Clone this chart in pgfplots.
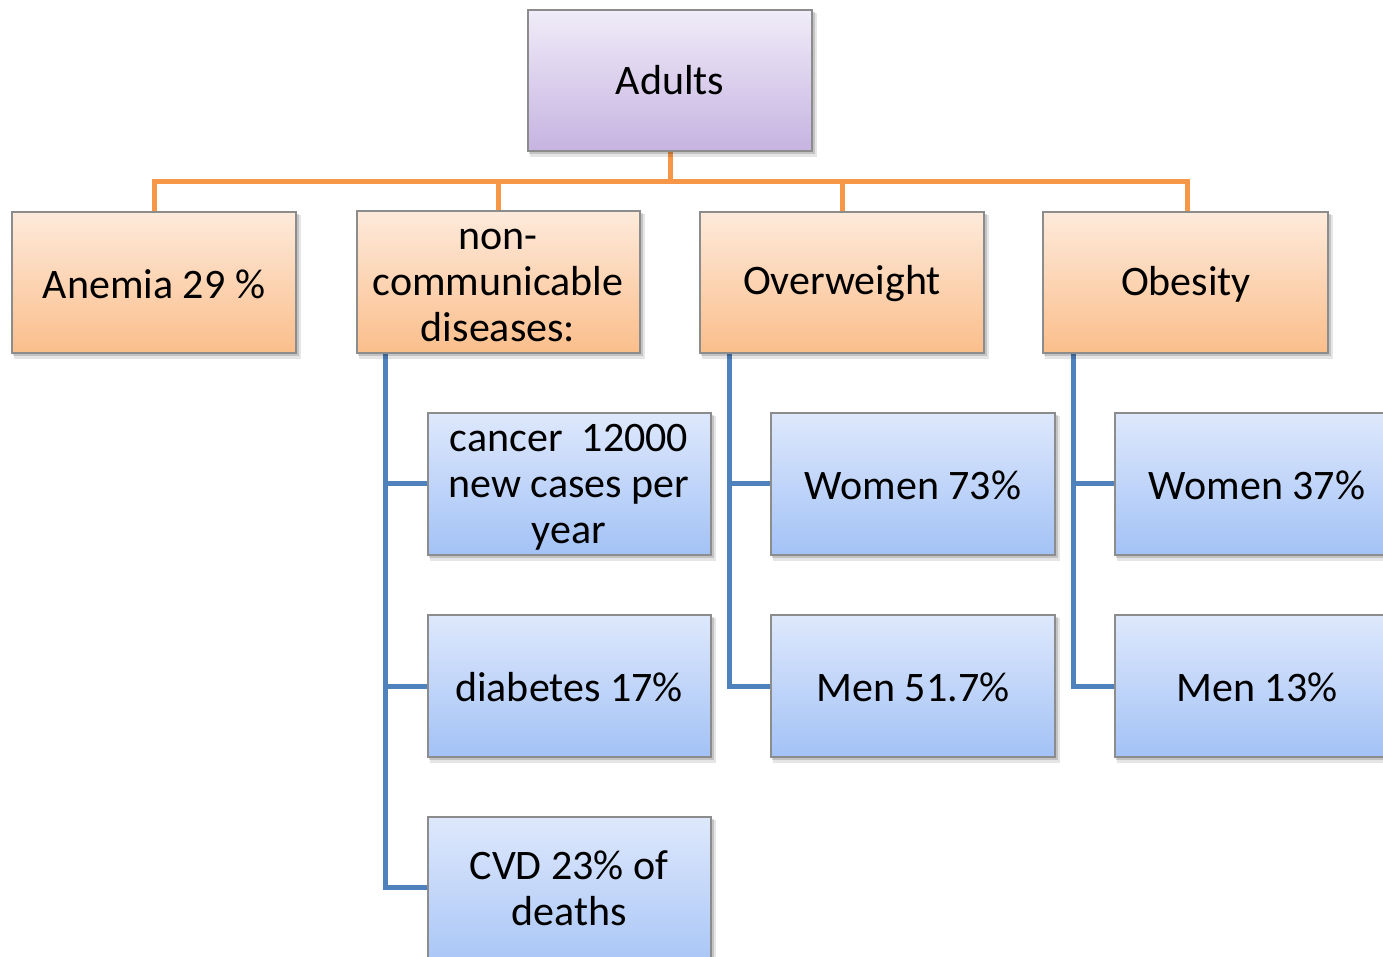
\documentclass[border=0pt]{standalone}
\usepackage{pgfplots}
\pgfplotsset{compat=1.18}
\usepackage{fontspec}
\setmainfont{Carlito}
\definecolor{lineor}{HTML}{F79646}
\definecolor{lineblue}{HTML}{4F81BD}
\definecolor{ortop}{HTML}{FDEADB}
\definecolor{orbot}{HTML}{FBBE8B}
\definecolor{putop}{HTML}{F0ECF8}
\definecolor{pubot}{HTML}{C6B3E1}
\definecolor{bltop}{HTML}{DEE8FC}
\definecolor{blbot}{HTML}{A3C2F6}
\definecolor{boxedge}{HTML}{8C8C8C}
\newcommand{\cbox}[6]{%
  \addplot[draw=none, fill=black, opacity=0.10] coordinates {(#1+2,#2+3) (#3+5,#2+3) (#3+5,#4+6) (#1+2,#4+6)} -- cycle;
  \addplot[draw=none, fill=black, opacity=0.15] coordinates {(#1+1,#2+2) (#3+3,#2+2) (#3+3,#4+3) (#1+1,#4+3)} -- cycle;
  \addplot[draw=boxedge, line width=0.7pt, top color=#5, bottom color=#6] coordinates {(#1,#2) (#3,#2) (#3,#4) (#1,#4)} -- cycle;
}
\begin{document}
\begin{tikzpicture}
\begin{axis}[
  width=691.5pt, height=478.5pt, scale only axis,
  xmin=0, xmax=1383, ymin=0, ymax=957, y dir=reverse,
  hide axis, clip=true,
]
% orange connectors
\addplot[lineor, line width=2.5pt] coordinates {(670,151) (670,182)};
\addplot[lineor, line width=2.5pt] coordinates {(154,212) (154,182) (1187,182) (1187,212)};
\addplot[lineor, line width=2.5pt] coordinates {(498,182) (498,212)};
\addplot[lineor, line width=2.5pt] coordinates {(842,182) (842,212)};
% blue connectors
\addplot[lineblue, line width=2.5pt] coordinates {(385,353) (385,887) (428,887)};
\addplot[lineblue, line width=2.5pt] coordinates {(385,484) (428,484)};
\addplot[lineblue, line width=2.5pt] coordinates {(385,686) (428,686)};
\addplot[lineblue, line width=2.5pt] coordinates {(729,353) (729,686) (771,686)};
\addplot[lineblue, line width=2.5pt] coordinates {(729,484) (771,484)};
\addplot[lineblue, line width=2.5pt] coordinates {(1073,353) (1073,686) (1115,686)};
\addplot[lineblue, line width=2.5pt] coordinates {(1073,484) (1115,484)};
% boxes
\cbox{528}{10}{812}{151}{putop}{pubot}
\cbox{12}{212}{296}{353}{ortop}{orbot}
\cbox{357}{211}{640}{353}{ortop}{orbot}
\cbox{700}{212}{984}{353}{ortop}{orbot}
\cbox{1043}{212}{1328}{353}{ortop}{orbot}
\cbox{428}{413}{711}{555}{bltop}{blbot}
\cbox{428}{615}{711}{757}{bltop}{blbot}
\cbox{428}{817}{711}{980}{bltop}{blbot}
\cbox{771}{413}{1055}{555}{bltop}{blbot}
\cbox{771}{615}{1055}{757}{bltop}{blbot}
\cbox{1115}{413}{1399}{555}{bltop}{blbot}
\cbox{1115}{615}{1399}{757}{bltop}{blbot}
\end{axis}
\begin{axis}[
  width=691.5pt, height=478.5pt, scale only axis,
  xmin=0, xmax=1383, ymin=0, ymax=957, y dir=reverse,
  hide axis, clip=false,
  nodes={font=\fontsize{21}{23}\selectfont, align=center, inner sep=0pt},
]
\node at (axis cs:670,80) {Adults};
\node at (axis cs:154,284) {Anemia 29 \%};
\node at (axis cs:498,285) {non-\\communicable\\diseases:};
\node at (axis cs:842,284) {Overweight};
\node at (axis cs:1186,284) {Obesity};
\node at (axis cs:569,487) {cancer\ \ 12000\\new cases per\\year};
\node at (axis cs:569,687) {diabetes 17\%};
\node at (axis cs:569,888) {CVD 23\% of\\deaths};
\node at (axis cs:913,485) {Women 73\%};
\node at (axis cs:913,687) {Men 51.7\%};
\node at (axis cs:1257,485) {Women 37\%};
\node at (axis cs:1257,687) {Men 13\%};
\end{axis}
\pgfresetboundingbox
\path (current axis.south west) rectangle (current axis.north east);
\end{tikzpicture}
\end{document}
